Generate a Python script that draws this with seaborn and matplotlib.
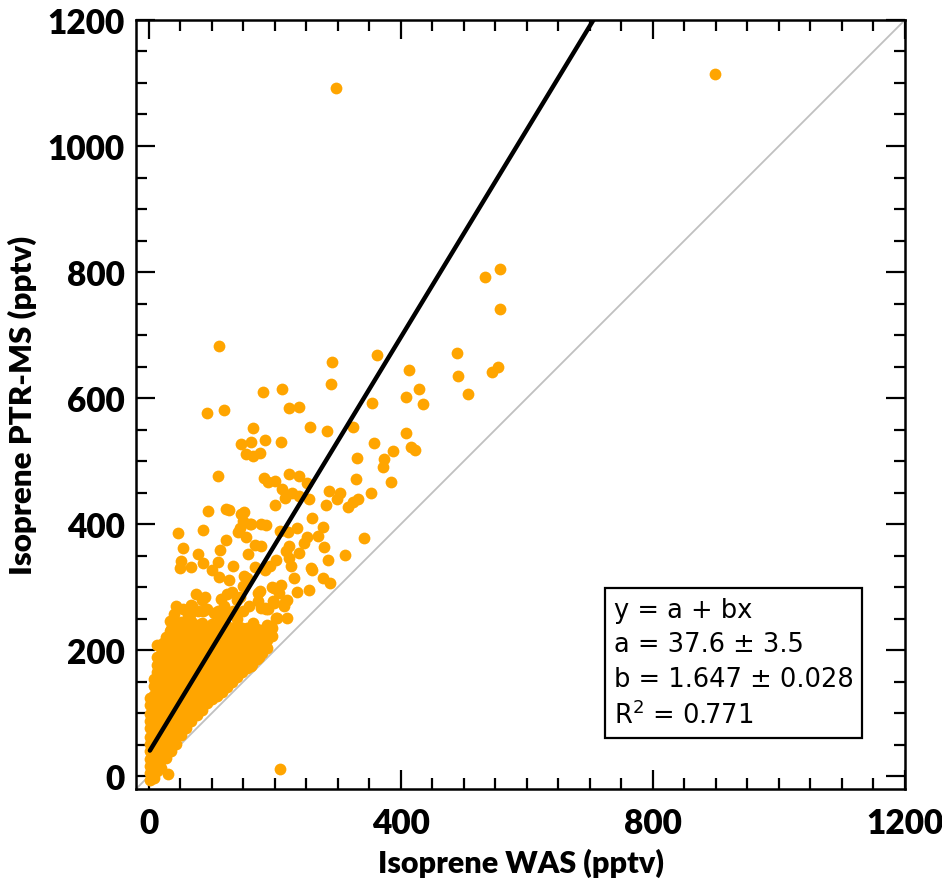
import matplotlib
matplotlib.use("Agg")
import matplotlib.pyplot as plt
import numpy as np
import pandas as pd
import seaborn as sns

# isolated points (WAS, PTR-MS) in pptv
was_sparse = [297, 898, 557, 534, 558, 489, 491, 545, 555, 506,
              111, 291, 290, 362, 182, 212, 222, 239, 93, 120, 413, 429, 409, 435, 354,
              166, 256, 283, 324, 147, 163, 184, 210, 155, 165, 177, 358, 409, 417, 422,
              388, 374, 372, 331, 110, 183, 190, 201, 223, 238, 251, 211, 216, 228, 239,
              255, 201, 286, 303, 299, 329, 353, 385, 281, 317, 332, 324, 94, 122, 128,
              147, 152, 149, 163, 179, 186, 259, 276, 46, 86, 142, 154, 209, 221, 236,
              122, 251, 269, 341, 55, 113, 168, 179, 218, 278, 239, 79, 157, 51, 86,
              110, 202, 222, 284, 312, 50, 68, 100, 134, 168, 226, 258, 111, 128, 152,
              230, 276, 287, 255, 236, 43, 69, 89, 133, 199, 210, 217,
              150, 156, 193, 185, 246, 222, 145, 161, 140, 134, 124, 84, 63, 87, 34,
              34, 14, 23, 177, 174, 185, 198, 195, 219, 220, 173, 178, 186, 199, 202,
              194, 186, 167, 167, 175, 162, 207, 156, 174, 193, 203, 190, 214, 166, 140,
              66, 68, 103, 92, 119, 113, 84, 31, 208, 259, 40, 55, 78, 110, 125,
              150, 160, 145, 115, 75]
ptr_sparse = [1092, 1115, 805, 792, 742, 672, 635, 642, 650, 607,
              683, 657, 623, 668, 609, 615, 585, 586, 577, 581, 644, 614, 602, 590, 593,
              552, 554, 548, 554, 528, 530, 534, 530, 511, 509, 513, 529, 545, 523, 517,
              516, 504, 491, 505, 477, 474, 467, 468, 479, 477, 465, 456, 442, 450, 444,
              440, 431, 453, 450, 440, 472, 450, 467, 431, 427, 440, 435, 421, 424, 423,
              416, 420, 405, 400, 401, 399, 410, 395, 386, 391, 387, 379, 389, 388, 394,
              375, 380, 381, 378, 362, 359, 367, 365, 358, 364, 354, 352, 352, 342, 338,
              340, 343, 347, 343, 351, 330, 332, 327, 334, 332, 334, 330, 316, 312, 318,
              314, 314, 306, 296, 292, 271, 271, 285, 293, 299, 304, 277,
              302, 315, 333, 328, 370, 365, 394, 401, 280, 262, 290, 280, 254, 262, 246,
              230, 209, 212, 294, 278, 267, 278, 300, 280, 251, 291, 267, 265, 275, 251,
              238, 233, 222, 209, 190, 175, 291, 188, 190, 233, 251, 265, 270, 243, 249,
              257, 272, 259, 265, 270, 249, 243, 3, 11, 328, 258, 265, 262, 262, 258,
              262, 270, 285, 282, 290]

# dense core of the cloud near the origin
core_was = ([2] * 12 + [8] * 14 + [14] * 16 + [20] * 17 + [28] * 17 + [36] * 17
            + [44] * 17 + [52] * 16 + [60] * 15 + [68] * 14 + [76] * 13 + [84] * 12
            + [92] * 11 + [100] * 11 + [108] * 10 + [116] * 9 + [124] * 9 + [132] * 8
            + [140] * 8 + [148] * 7 + [156] * 6 + [164] * 6 + [172] * 5 + [180] * 4
            + [188] * 4 + [196] * 2)
core_ptr = [-6, 5, 17, 27, 41, 52, 63, 77, 88, 99, 113, 124,
            -2, 11, 21, 35, 46, 57, 71, 82, 93, 107, 118, 129, 143, 154,
            8, 18, 31, 42, 54, 67, 80, 91, 104, 117, 127, 141, 151, 165, 176, 189,
            14, 26, 37, 51, 62, 75, 86, 97, 111, 122, 133, 147, 158, 169, 183, 194, 207,
            29, 40, 53, 63, 77, 88, 99, 113, 124, 135, 149, 160, 171, 185, 196, 207, 221,
            41, 52, 63, 77, 88, 99, 113, 124, 135, 149, 160, 173, 184, 195, 209, 220, 233,
            52, 65, 76, 87, 101, 112, 123, 137, 148, 159, 173, 184, 195, 209, 220, 231, 244,
            65, 76, 89, 100, 111, 125, 136, 147, 161, 172, 183, 197, 208, 219, 233, 245,
            76, 87, 101, 112, 123, 137, 148, 159, 173, 184, 195, 209, 220, 231, 242,
            88, 101, 112, 123, 137, 148, 159, 173, 184, 195, 209, 220, 233, 247,
            98, 111, 122, 135, 146, 157, 171, 182, 193, 207, 218, 229, 240,
            106, 119, 130, 141, 155, 166, 177, 191, 202, 213, 227, 238,
            116, 127, 140, 151, 163, 177, 188, 199, 213, 224, 236,
            122, 135, 146, 157, 171, 182, 193, 207, 218, 229, 242,
            128, 141, 152, 163, 177, 188, 199, 213, 224, 236,
            134, 147, 158, 169, 183, 194, 205, 219, 230,
            142, 153, 167, 178, 189, 203, 214, 225, 238,
            150, 161, 175, 186, 197, 211, 222, 234,
            158, 169, 181, 194, 205, 217, 228, 240,
            166, 177, 190, 201, 213, 225, 236,
            172, 185, 197, 209, 222, 235,
            178, 190, 203, 214, 226, 238,
            186, 198, 211, 222, 234,
            196, 208, 221, 232,
            204, 216, 228, 240,
            222, 236]

# linear fit shown in the box
fit_a, fit_a_err = 37.6, 3.5
fit_b, fit_b_err = 1.647, 0.028
fit_r2 = 0.771

df = pd.DataFrame({
    "was": was_sparse + core_was,
    "ptr": ptr_sparse + core_ptr,
})

sns.set_style("ticks", {"axes.edgecolor": "black", "xtick.color": "black",
                        "ytick.color": "black", "text.color": "black",
                        "axes.labelcolor": "black"})
plt.rcParams["font.family"] = ["Lato", "DejaVu Sans"]
plt.rcParams["mathtext.default"] = "regular"

fig = plt.figure(figsize=(9.42, 8.87), dpi=100)
ax = fig.add_axes([0.1444, 0.1094, 0.8163, 0.867])

ax.axline((0, 0), slope=1, color="#c0c0c0", lw=1.3, zorder=1)
sns.scatterplot(data=df, x="was", y="ptr", color="#ffa500", s=72,
                linewidth=0, ax=ax, zorder=2)

xfit = np.array([df["was"].min(), 1200])
ax.plot(xfit, fit_a + fit_b * xfit, color="black", lw=3.2, zorder=3)

ax.set_xlim(-20, 1200)
ax.set_ylim(-20, 1200)
ax.set_xticks([0, 400, 800, 1200])
ax.set_yticks([0, 200, 400, 600, 800, 1000, 1200])
ax.set_xticks(np.arange(0, 1201, 50), minor=True)
ax.set_yticks(np.arange(0, 1201, 50), minor=True)
ax.tick_params(which="both", direction="in", top=True, right=True, width=1.6)
ax.tick_params(which="major", length=14, labelsize=24, pad=8)
ax.tick_params(axis="x", which="major", pad=13)
ax.tick_params(which="minor", length=8)
for lab in ax.get_xticklabels() + ax.get_yticklabels():
    lab.set_fontweight("heavy")
for sp in ax.spines.values():
    sp.set_linewidth(1.8)

ax.set_xlabel("Isoprene WAS (pptv)", fontsize=22, fontweight="heavy", labelpad=6)
ax.set_ylabel("Isoprene PTR-MS (pptv)", fontsize=22.5, fontweight="heavy", labelpad=8)

box_text = (f"y = a + bx\n"
            f"a = {fit_a} ± {fit_a_err}\n"
            f"b = {fit_b} ± {fit_b_err}\n"
            f"R$^{{2}}$ = {fit_r2}")
ax.text(0.621, 0.25, box_text, transform=ax.transAxes, ha="left", va="top",
        fontsize=18.5, linespacing=1.42, family=["DejaVu Sans"],
        bbox=dict(boxstyle="square,pad=0.35", fc="white", ec="black", lw=1.6))

fig.savefig("out.png", dpi=100)
